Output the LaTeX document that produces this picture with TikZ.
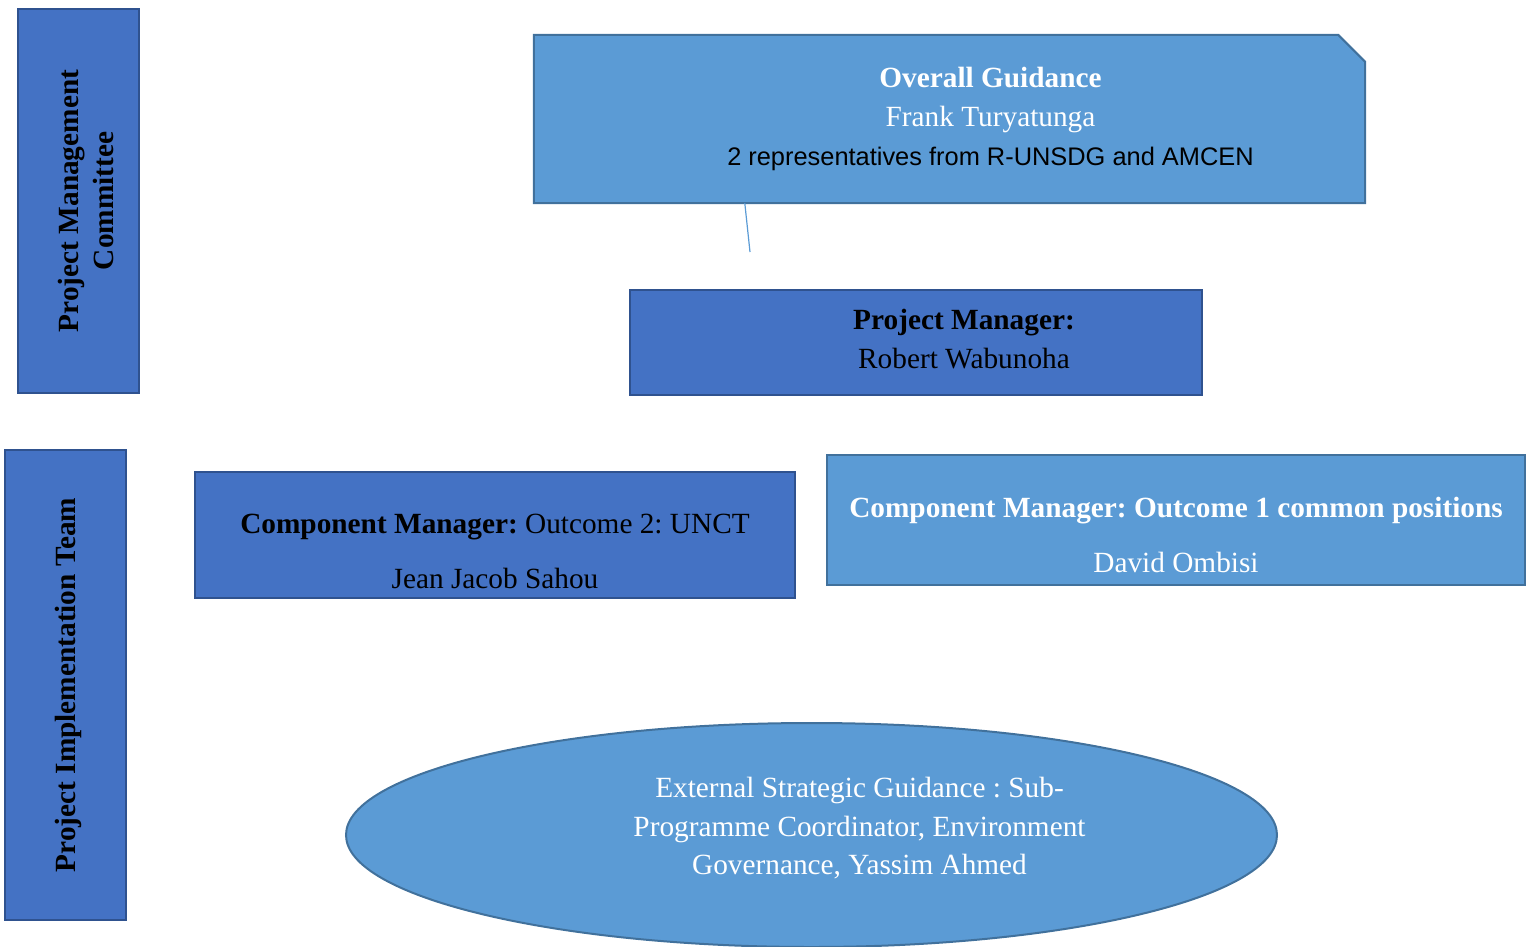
\documentclass[tikz,border=0pt]{standalone}
\usepackage{fontspec}
\setmainfont{Liberation Serif}
\setsansfont{Liberation Sans}
\usetikzlibrary{positioning,shapes.geometric}

\definecolor{deepblue}{HTML}{4472C4}
\definecolor{deepedge}{HTML}{2F528F}
\definecolor{paleblue}{HTML}{5B9BD5}
\definecolor{paleedge}{HTML}{41719C}

\begin{document}
\frenchspacing
\begin{tikzpicture}[
  x=1pt, y=-1pt,
  every node/.style={font=\fontsize{29.3}{39}\selectfont},
  darkbox/.style={draw=deepedge, fill=deepblue, line width=2pt, inner sep=0pt},
  lightbox/.style={draw=paleedge, fill=paleblue, line width=2pt, inner sep=0pt},
  sidebar/.style={darkbox, minimum width=121pt},
  sidetext/.style={rotate=90, align=center, inner sep=0pt,
    font=\fontsize{29.3}{35}\selectfont\bfseries},
  boxtext/.style={align=center, inner sep=0pt}
]
  \useasboundingbox (0,0) rectangle (1526,946);

  % committee and team bars on the left
  \node (pmc) [sidebar, minimum height=384pt] at (78.5,201) {};
  \node (pmclabel) [sidetext] at ([xshift=7pt]pmc.center) {Project Management\\Committee};

  \node (pit) [sidebar, minimum height=470pt, below=55pt of pmc, xshift=-13pt] {};
  \node (pitlabel) [sidetext] at ([xshift=3pt]pit.center) {Project Implementation Team};

  % guidance box, corner cut at the top right
  \node (guidance) [minimum width=831pt, minimum height=168pt, inner sep=0pt] at (949.5,119) {};
  \draw [lightbox] (guidance.north west) -- ([xshift=-27pt]guidance.north east)
    -- ([yshift=-27pt]guidance.north east) -- (guidance.south east)
    -- (guidance.south west) -- cycle;
  \node (guidancetext) [boxtext, text=white, xshift=41pt] at (guidance)
    {\textbf{Overall Guidance}\\Frank Turyatunga\\
     {\sffamily\fontsize{25.4}{39}\selectfont\color{black}2 representatives from R-UNSDG and AMCEN}};

  \coordinate (tail) at (750,252);
  \draw [paleblue, line width=1.2pt] ([xshift=211pt]guidance.south west) -- (tail);

  \node (pm) [darkbox, minimum width=572pt, minimum height=105pt] at (916,342.5) {};
  \node (pmtext) [boxtext, xshift=48pt, yshift=3pt] at (pm)
    {\textbf{Project Manager:}\\Robert Wabunoha};

  % component managers
  \node (cm2) [darkbox, minimum width=600pt, minimum height=126pt] at (495,535) {};
  \node (cm2text) [boxtext, yshift=-16pt] at (cm2)
    {\textbf{Component Manager:} Outcome 2: UNCT\\[16pt]Jean Jacob Sahou};

  \node (cm1) [lightbox, minimum width=698pt, minimum height=130pt] at (1176,520) {};
  \node (cm1text) [boxtext, text=white, yshift=-14.5pt] at (cm1)
    {\textbf{Component Manager: Outcome 1 common positions}\\[16pt]David Ombisi};

  % outside guidance
  \node (esg) [lightbox, ellipse, minimum width=931pt, minimum height=224pt] at (811.5,835) {};
  \node (esgtext) [boxtext, text=white, xshift=48pt, yshift=6.5pt,
    font=\fontsize{29.3}{38.5}\selectfont] at (esg)
    {External Strategic Guidance : Sub-\\Programme Coordinator, Environment\\Governance, Yassim Ahmed};
\end{tikzpicture}
\end{document}
